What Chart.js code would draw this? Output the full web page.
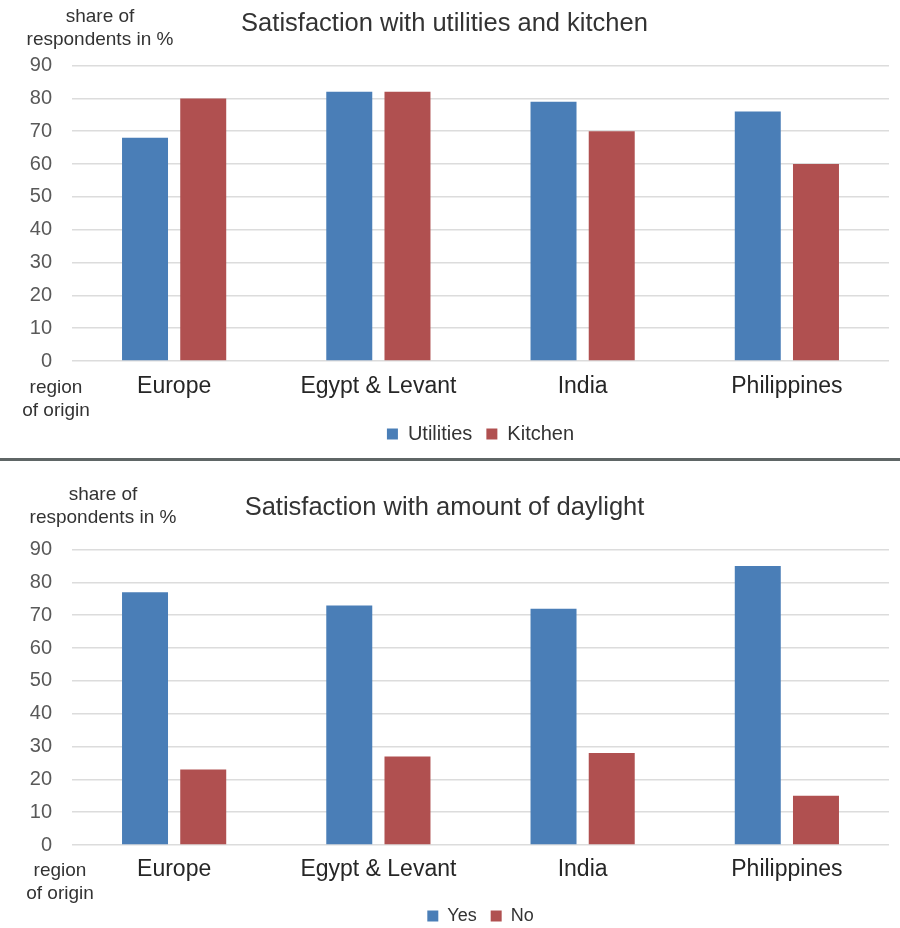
<!DOCTYPE html>
<html>
<head>
<meta charset="utf-8">
<script src="https://cdn.jsdelivr.net/npm/chart.js@4"></script>
<style>
  html, body { margin: 0; background: #fff; overflow: hidden; font-family: "Liberation Sans", Arial, sans-serif; }
  #wrap { position: relative; width: 900px; height: 928px; overflow: hidden; }
  .box { position: absolute; left: 0; width: 900px; }
  .note { position: absolute; color: #333; font-size: 19px; line-height: 23px; text-align: center; white-space: nowrap; }
  #sep { position: absolute; left: 0; top: 458px; width: 900px; height: 3px; background: #5f6666; }
</style>
</head>
<body>
<div id="wrap">
  <div class="box" style="top:0;height:456px"><canvas id="top"></canvas></div>
  <div class="box" style="top:462px;height:474px"><canvas id="bottom"></canvas></div>
  <div id="sep"></div>

  <div class="note" style="left:20px;top:4px;width:160px">share of<br>respondents in %</div>
  <div class="note" style="left:6px;top:375px;width:100px">region<br>of origin</div>
  <div class="note" style="left:23px;top:482px;width:160px">share of<br>respondents in %</div>
  <div class="note" style="left:10px;top:858px;width:100px">region<br>of origin</div>
</div>
<script>
// data
const regions = ["Europe", "Egypt & Levant", "India", "Philippines"];
const utilities = [68, 82, 79, 76];
const kitchen = [80, 82, 70, 60];
const daylightYes = [77, 73, 72, 85];
const daylightNo = [23, 27, 28, 15];

const BLUE = "#4a7eb7";
const RED = "#b05050";
const FONT = "'Liberation Sans', Arial, sans-serif";

// cfg: titleTop, xPad, xHeight, bottomPad, legendSize
function makeChart(id, title, labels, series, cfg) {
    const ctx = document.getElementById(id).getContext("2d");
    return new Chart(ctx, {
        type: "bar",
        data: {
            labels: labels,
            datasets: series.map(s => ({
                label: s.name,
                data: s.values,
                backgroundColor: s.color,
                borderWidth: 0,
                categoryPercentage: 0.57,
                barPercentage: 0.79
            }))
        },
        options: {
            responsive: true,
            maintainAspectRatio: false,
            animation: false,
            layout: { padding: { left: 0, right: 11, top: 0, bottom: cfg.bottomPad } },
            plugins: {
                title: {
                    display: true,
                    text: title,
                    color: "#333",
                    font: { family: FONT, size: 25.5, weight: "normal" },
                    padding: { top: cfg.titleTop, bottom: 26 }
                },
                legend: {
                    position: "bottom",
                    fullSize: false,
                    labels: {
                        color: "#333",
                        font: { family: FONT, size: cfg.legendSize },
                        boxWidth: 11,
                        boxHeight: 11,
                        padding: 14
                    }
                },
                tooltip: { enabled: false }
            },
            scales: {
                x: {
                    afterFit: scale => { scale.height = cfg.xHeight; },
                    grid: { display: false },
                    border: { display: false },
                    ticks: {
                        color: "#262626",
                        font: { family: FONT, size: 23 },
                        padding: cfg.xPad,
                        maxRotation: 0
                    }
                },
                y: {
                    min: 0,
                    max: 90,
                    afterFit: scale => { scale.width = 72; },
                    border: { display: false },
                    grid: { color: "#dcdcdc", lineWidth: 1.5, drawTicks: false },
                    ticks: {
                        stepSize: 10,
                        color: "#595959",
                        font: { family: FONT, size: 20 },
                        padding: 20
                    }
                }
            }
        }
    });
}

makeChart("top", "Satisfaction with utilities and kitchen", regions, [
    { name: "Utilities", values: utilities, color: BLUE },
    { name: "Kitchen", values: kitchen, color: RED }
], { titleTop: 9, xPad: 4, xHeight: 49, bottomPad: 2, legendSize: 20 });

makeChart("bottom", "Satisfaction with amount of daylight", regions, [
    { name: "Yes", values: daylightYes, color: BLUE },
    { name: "No", values: daylightNo, color: RED }
], { titleTop: 31, xPad: 3, xHeight: 48, bottomPad: 1, legendSize: 18 });
</script>
</body>
</html>
